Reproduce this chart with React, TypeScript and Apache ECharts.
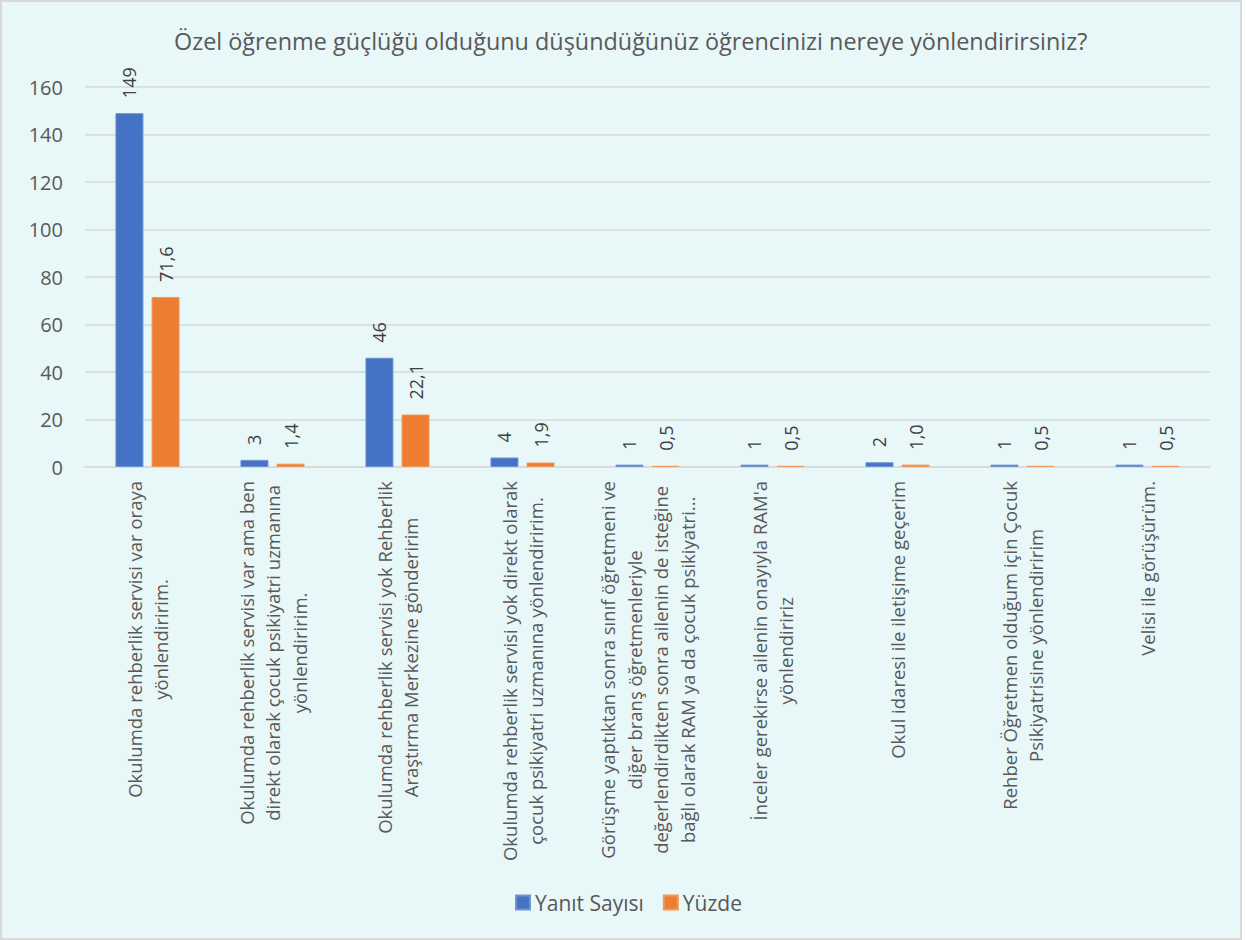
import React, { useEffect, useRef } from "react";
import * as echarts from "echarts";

const titleText = "Özel öğrenme güçlüğü olduğunu düşündüğünüz öğrencinizi nereye yönlendirirsiniz?";
const categories = [
  "Okulumda rehberlik servisi var oraya\nyönlendiririm.",
  "Okulumda rehberlik servisi var ama ben\ndirekt olarak çocuk psikiyatri uzmanına\nyönlendiririm.",
  "Okulumda rehberlik servisi yok Rehberlik\nAraştırma Merkezine gönderirim",
  "Okulumda rehberlik servisi yok direkt olarak\nçocuk psikiyatri uzmanına yönlendiririm.",
  "Görüşme yaptıktan sonra sınıf öğretmeni ve\ndiğer branş öğretmenleriyle\ndeğerlendirdikten sonra ailenin de isteğine\nbağlı olarak RAM ya da çocuk psikiyatri...",
  "İnceler gerekirse ailenin onayıyla RAM'a\nyönlendiririz",
  "Okul idaresi ile iletişime geçerim",
  "Rehber Öğretmen olduğum için Çocuk\nPsikiyatrisine yönlendiririm",
  "Velisi ile görüşürüm.",
];
const seriesNames = ["Yanıt Sayısı", "Yüzde"];
const responseCounts = [149, 3, 46, 4, 1, 1, 2, 1, 1];
const percentages = [71.6, 1.4, 22.1, 1.9, 0.5, 0.5, 1.0, 0.5, 0.5];
const yTicks = { min: 0, max: 160, interval: 20 };

const FONT = "'Open Sans', 'Noto Sans', sans-serif";
const TEXT = "#595959";

export default function App() {
  const ref = useRef<HTMLDivElement>(null);
  useEffect(() => {
    if (!ref.current) return;
    const chart = echarts.init(ref.current, undefined, { renderer: "svg" });
    const labelCommon = {
      show: true,
      position: "top" as const,
      rotate: 90,
      align: "left",
      verticalAlign: "middle",
      distance: 15,
      fontSize: 18,
      color: "#404040",
      fontFamily: FONT,
    };
    chart.setOption({
      animation: false,
      backgroundColor: "transparent",
      title: {
        text: titleText,
        left: 167,
        top: 22,
        textStyle: { fontSize: 23.4, fontWeight: "normal", color: TEXT, fontFamily: FONT },
      },
      legend: {
        data: seriesNames,
        top: 885,
        left: 508,
        icon: "rect",
        itemWidth: 14,
        itemHeight: 14,
        itemGap: 19,
        textStyle: { fontSize: 21, color: TEXT, fontFamily: FONT },
      },
      grid: { left: 83, right: 30, top: 85, bottom: 471, containLabel: false },
      xAxis: {
        type: "category",
        data: categories,
        axisTick: { show: false },
        axisLine: { lineStyle: { color: "#D9D9D9", width: 1.5 } },
        axisLabel: {
          interval: 0,
          rotate: 90,
          margin: 14,
          fontSize: 18.5,
          color: TEXT,
          fontFamily: FONT,
          lineHeight: 26.5,
          formatter: (v: string) => v.split("\n").map((l) => `{c|${l}}`).join("\n"),
          rich: {
            c: { align: "center", fontSize: 18.5, lineHeight: 26.5, color: TEXT, fontFamily: FONT },
          },
        },
      },
      yAxis: {
        type: "value",
        min: yTicks.min,
        max: yTicks.max,
        interval: yTicks.interval,
        axisLine: { show: false },
        axisTick: { show: false },
        axisLabel: { fontSize: 20, color: TEXT, fontFamily: FONT, margin: 22 },
        splitLine: { lineStyle: { color: "#D9D9D9", width: 1.5 } },
      },
      series: [
        {
          name: seriesNames[0],
          type: "bar",
          data: responseCounts,
          barWidth: 28,
          barGap: "29%",
          itemStyle: { color: "#4472C4", borderColor: "#6F93D3", borderWidth: 1 },
          label: { ...labelCommon, formatter: (p: any) => String(p.value) },
        },
        {
          name: seriesNames[1],
          type: "bar",
          data: percentages,
          barWidth: 28,
          itemStyle: { color: "#ED7D31", borderColor: "#F29A5E", borderWidth: 1 },
          label: {
            ...labelCommon,
            formatter: (p: any) => Number(p.value).toFixed(1).replace(".", ","),
          },
        },
      ],
    });
    return () => chart.dispose();
  }, []);
  return (
    <div
      style={{
        position: "fixed",
        left: 0,
        top: 0,
        width: 1242,
        height: 940,
        boxSizing: "border-box",
        border: "2px solid #D9D9D9",
        background: "#E8F7F8",
      }}
    >
      <div ref={ref} style={{ width: "100%", height: "100%" }} />
    </div>
  );
}
